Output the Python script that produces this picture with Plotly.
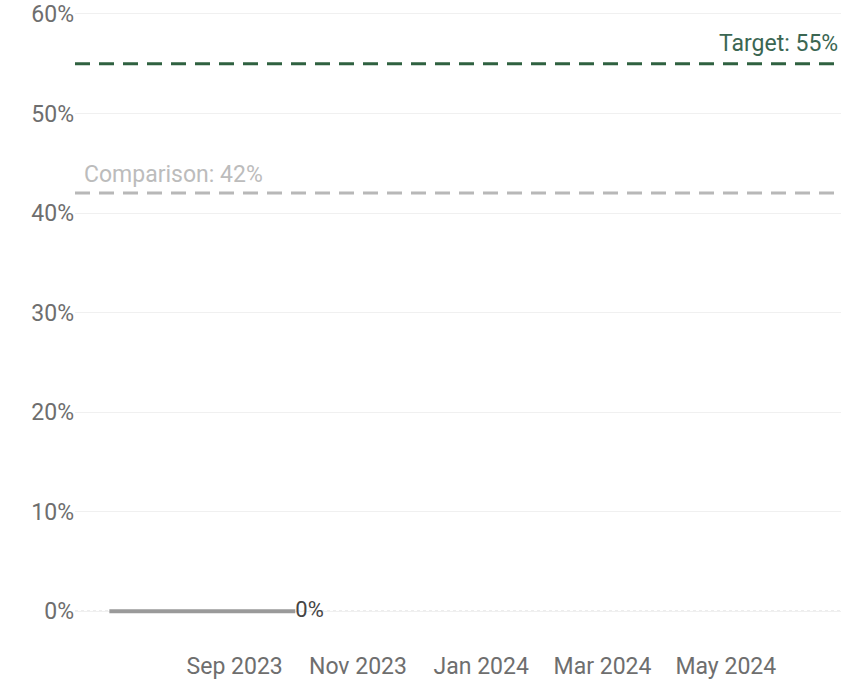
import plotly.graph_objects as go

# Data
dates = ["2023-07-01", "2023-08-01", "2023-09-01", "2023-10-01"]
values = [0.0, 0.0, 0.0, 0.0]
target_value = 0.55
comparison_value = 0.42
target_label = "Target: 55%"
comparison_label = "Comparison: 42%"
end_label = "0%"
x_tick_vals = ["2023-09-01", "2023-11-01", "2024-01-01", "2024-03-01", "2024-05-01"]
x_tick_text = ["Sep 2023", "Nov 2023", "Jan 2024", "Mar 2024", "May 2024"]
y_tick_vals = [0, 0.1, 0.2, 0.3, 0.4, 0.5, 0.6]
y_tick_text = ["0%", "10%", "20%", "30%", "40%", "50%", "60%"]
x_range = ["2023-06-14", "2024-06-27"]

FONT = "Roboto, Arial, sans-serif"

fig = go.Figure()

fig.add_trace(go.Scatter(
    x=dates, y=values, mode="lines",
    line=dict(color="#9a9a9a", width=4),
    hoverinfo="skip", showlegend=False,
))

fig.add_trace(go.Scatter(
    x=[dates[-1]], y=[values[-1]], mode="text",
    text=[end_label], textposition="middle right",
    textfont=dict(family=FONT, size=22, color="#444444"),
    showlegend=False, hoverinfo="skip",
))

# zero baseline (dotted)
fig.add_shape(type="line", xref="paper", x0=0, x1=1, yref="y", y0=0, y1=0,
              line=dict(color="#c8c8c8", width=1, dash="dot"), layer="below")

# target line
fig.add_shape(type="line", xref="paper", x0=0, x1=1, yref="y",
              y0=target_value, y1=target_value,
              line=dict(color="#2f6140", width=3, dash="15px,9px"))
fig.add_annotation(xref="paper", x=1, xanchor="right", xshift=-1,
                   yref="y", y=target_value, yanchor="bottom", yshift=5,
                   text=target_label, showarrow=False,
                   font=dict(family=FONT, size=23, color="#3b6652"))

# comparison line
fig.add_shape(type="line", xref="paper", x0=0, x1=1, yref="y",
              y0=comparison_value, y1=comparison_value,
              line=dict(color="#b8b8b8", width=3, dash="15px,9px"))
fig.add_annotation(xref="paper", x=0, xanchor="left", xshift=7,
                   yref="y", y=comparison_value, yanchor="bottom", yshift=3,
                   text=comparison_label, showarrow=False,
                   font=dict(family=FONT, size=23, color="#bcbcbc"))

fig.update_layout(
    width=841, height=689,
    margin=dict(l=75, r=0, t=4, b=39),
    paper_bgcolor="white", plot_bgcolor="white",
    font=dict(family=FONT, size=23, color="#6e6e6e"),
    showlegend=False,
    xaxis=dict(
        type="date", range=x_range,
        tickvals=x_tick_vals, ticktext=x_tick_text,
        showgrid=False, zeroline=False, showline=False, ticks="",
        tickfont=dict(family=FONT, size=23, color="#6e6e6e"),
    ),
    yaxis=dict(
        range=[-0.039, 0.61],
        tickvals=y_tick_vals, ticktext=y_tick_text,
        showgrid=True, gridcolor="#f0f0f0", gridwidth=1,
        zeroline=False, showline=False, ticks="",
        tickfont=dict(family=FONT, size=23, color="#6e6e6e"),
    ),
)

fig.write_html(
    "out.html",
    config={"displayModeBar": False},
    post_script="document.body.style.margin='0';document.body.style.overflow='hidden';",
)
